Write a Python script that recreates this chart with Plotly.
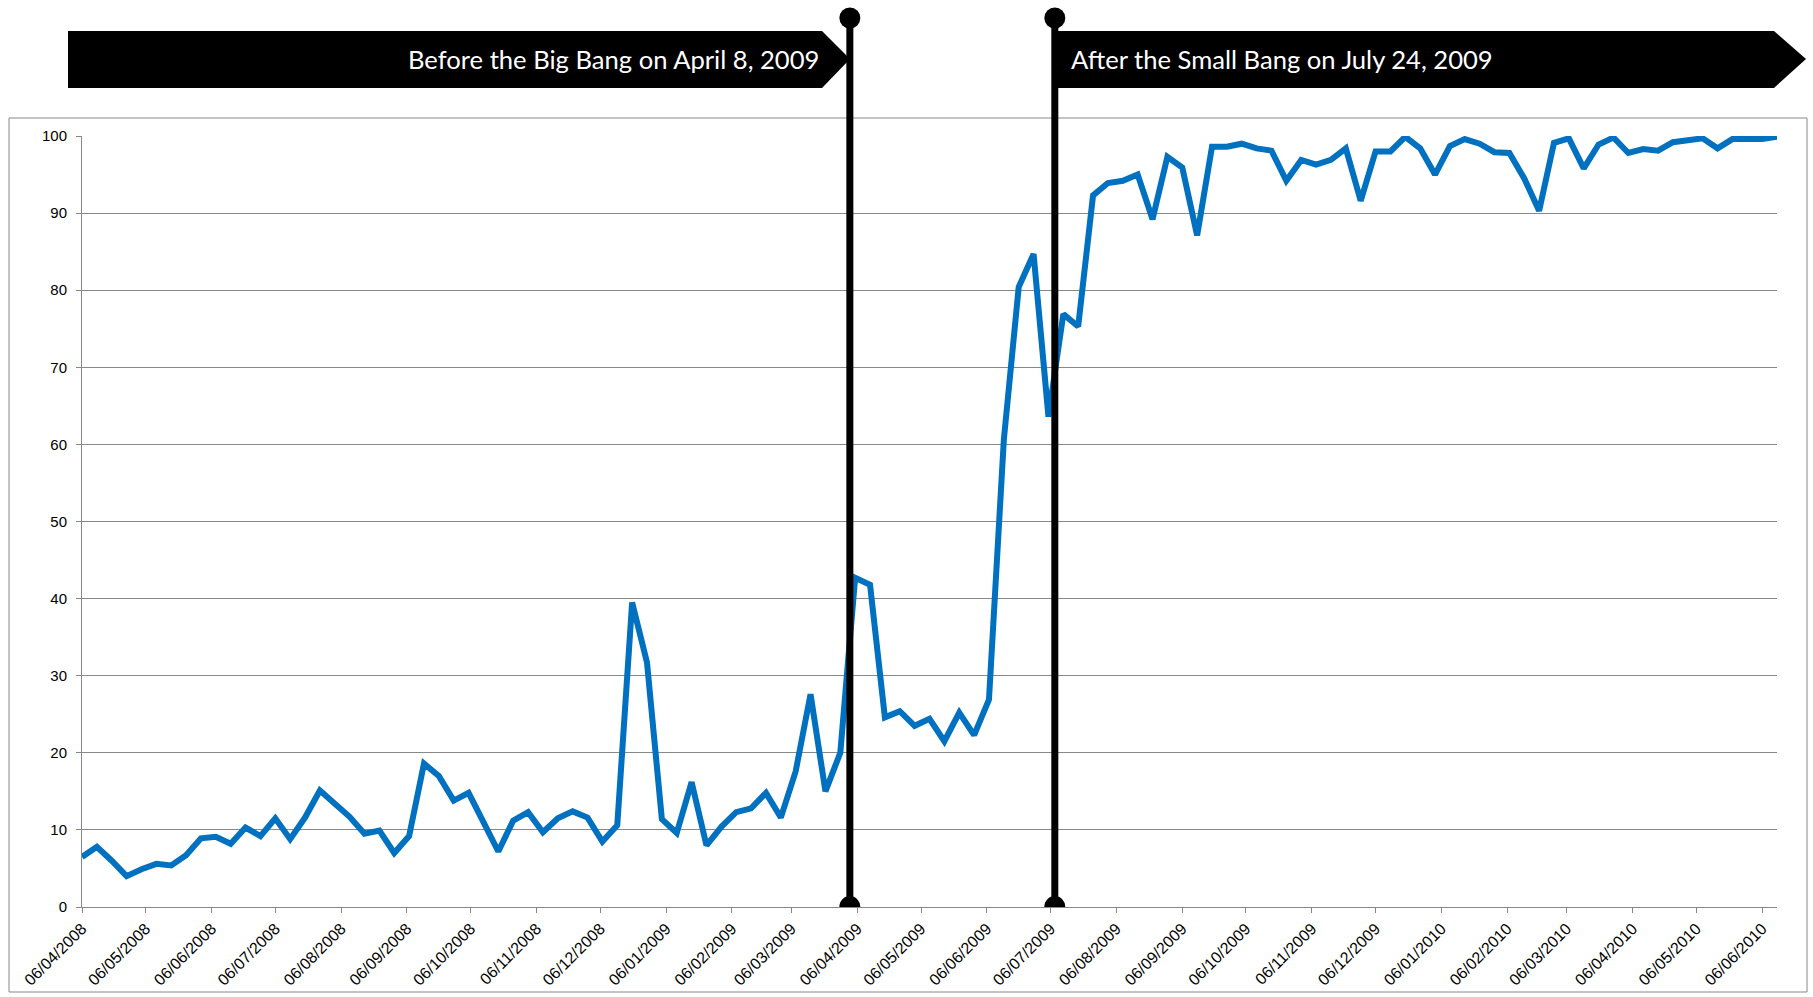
import pandas as pd
import plotly.graph_objects as go

# Weekly readings, one per Sunday starting 6 April 2008
START_DATE = "2008-04-06"
values = [
    6.5, 7.8, 6.0, 4.0, 4.9, 5.6, 5.4, 6.7, 8.9, 9.1,
    8.2, 10.3, 9.2, 11.5, 8.8, 11.6, 15.1, 13.5, 11.7, 9.5,
    9.9, 7.0, 9.2, 18.6, 17.0, 13.8, 14.8, 11.0, 7.2, 11.2,
    12.3, 9.7, 11.5, 12.4, 11.6, 8.5, 10.6, 39.5, 31.7, 11.4,
    9.6, 16.2, 8.0, 10.4, 12.3, 12.8, 14.8, 11.6, 17.6, 27.6,
    15.0, 20.0, 42.7, 41.8, 24.6, 25.4, 23.5, 24.4, 21.5, 25.2,
    22.3, 26.9, 60.6, 80.4, 84.7, 63.6, 76.9, 75.3, 92.3, 93.9,
    94.2, 95.0, 89.2, 97.3, 95.9, 87.1, 98.6, 98.6, 99.0, 98.4,
    98.1, 94.2, 96.9, 96.3, 96.9, 98.4, 91.6, 98.0, 98.0, 99.9,
    98.4, 95.0, 98.7, 99.6, 99.0, 97.9, 97.8, 94.5, 90.3, 99.1,
    99.7, 95.8, 98.9, 99.8, 97.8, 98.3, 98.1, 99.2, 99.4, 99.7,
    98.4, 99.6, 99.6, 99.6, 99.9,
]
dates = pd.date_range(START_DATE, periods=len(values), freq="7D")

# Monthly ticks on the 6th of each month
tick_dates = pd.date_range("2008-04-01", "2010-06-01", freq="MS") + pd.Timedelta(days=5)
tick_labels = [d.strftime("%d/%m/%Y") for d in tick_dates]

y_ticks = [0, 10, 20, 30, 40, 50, 60, 70, 80, 90, 100]

banner_left = "Before the Big Bang on April 8, 2009"
banner_right = "After the Small Bang on July 24, 2009"

# Where the two flag poles stand on the time axis
pole_dates = ["2009-04-02 12:00", "2009-07-08 00:00"]

W, H = 1813, 997
ML, MR, MT, MB = 82, 36, 136, 90
PW, PH = W - ML - MR, H - MT - MB


def px(x):
    return (x - ML) / PW


def py(y):
    return (H - MB - y) / PH


def poly(points):
    return "M " + " L ".join(f"{px(x):.5f},{py(y):.5f}" for x, y in points) + " Z"


GRID = "#888888"

fig = go.Figure()
fig.add_trace(go.Scatter(
    x=dates, y=values, mode="lines",
    line=dict(color="#0070C0", width=6),
    hoverinfo="x+y", showlegend=False,
))

shapes = []
# chart frame
shapes.append(dict(type="rect", xref="paper", yref="paper",
                   x0=px(9), x1=px(1807), y0=py(992), y1=py(118),
                   line=dict(color=GRID, width=1), layer="below"))
# banners
shapes.append(dict(type="path", xref="paper", yref="paper",
                   path=poly([(68, 31), (822, 31), (850, 59), (822, 88), (68, 88)]),
                   fillcolor="black", line=dict(width=0), layer="above"))
shapes.append(dict(type="path", xref="paper", yref="paper",
                   path=poly([(1055, 31), (1774, 31), (1806, 59), (1774, 88), (1055, 88)]),
                   fillcolor="black", line=dict(width=0), layer="above"))
# flag poles with round ends
for d in pole_dates:
    shapes.append(dict(type="line", xref="x", yref="paper",
                       x0=d, x1=d, y0=py(18), y1=0,
                       line=dict(color="black", width=7), layer="above"))
    shapes.append(dict(type="circle", xref="x", yref="paper",
                       xsizemode="pixel", ysizemode="pixel",
                       xanchor=d, yanchor=py(18),
                       x0=-10.5, x1=10.5, y0=-10.5, y1=10.5,
                       fillcolor="black", line=dict(width=0), layer="above"))
    shapes.append(dict(type="circle", xref="x", yref="y",
                       xsizemode="pixel", ysizemode="pixel",
                       xanchor=d, yanchor=0,
                       x0=-10.5, x1=10.5, y0=-11, y1=11,
                       fillcolor="black", line=dict(width=0), layer="above"))

annotations = [
    dict(xref="paper", yref="paper", x=px(821), y=py(59),
         xanchor="right", yanchor="middle", text=banner_left, showarrow=False,
         font=dict(family="Lato", size=25.6, color="white")),
    dict(xref="paper", yref="paper", x=px(1069), y=py(59),
         xanchor="left", yanchor="middle", text=banner_right, showarrow=False,
         font=dict(family="Lato", size=25.6, color="white")),
]

fig.update_layout(
    width=W, height=H, autosize=False,
    margin=dict(l=ML, r=MR, t=MT, b=MB, pad=0),
    paper_bgcolor="white", plot_bgcolor="white",
    shapes=shapes, annotations=annotations,
    font=dict(family="Liberation Sans", size=14, color="black"),
    xaxis=dict(
        type="date", automargin=False,
        range=[dates[0], dates[-1]],
        tickmode="array", tickvals=tick_dates, ticktext=tick_labels,
        tickangle=-45, ticks="outside", ticklen=5, tickcolor=GRID,
        showline=True, linecolor=GRID, linewidth=1,
        showgrid=False, zeroline=False,
        tickfont=dict(family="Liberation Sans", size=16, color="black"),
    ),
    yaxis=dict(
        automargin=False,
        range=[0, 100], tickmode="array", tickvals=y_ticks,
        ticks="outside", ticklen=5, tickcolor=GRID,
        showline=True, linecolor=GRID, linewidth=1,
        showgrid=True, gridcolor=GRID, gridwidth=1,
        zeroline=False,
        tickfont=dict(family="Liberation Sans", size=15, color="black"),
        ticklabelstandoff=6,
    ),
)

fig.write_html("out.html")
